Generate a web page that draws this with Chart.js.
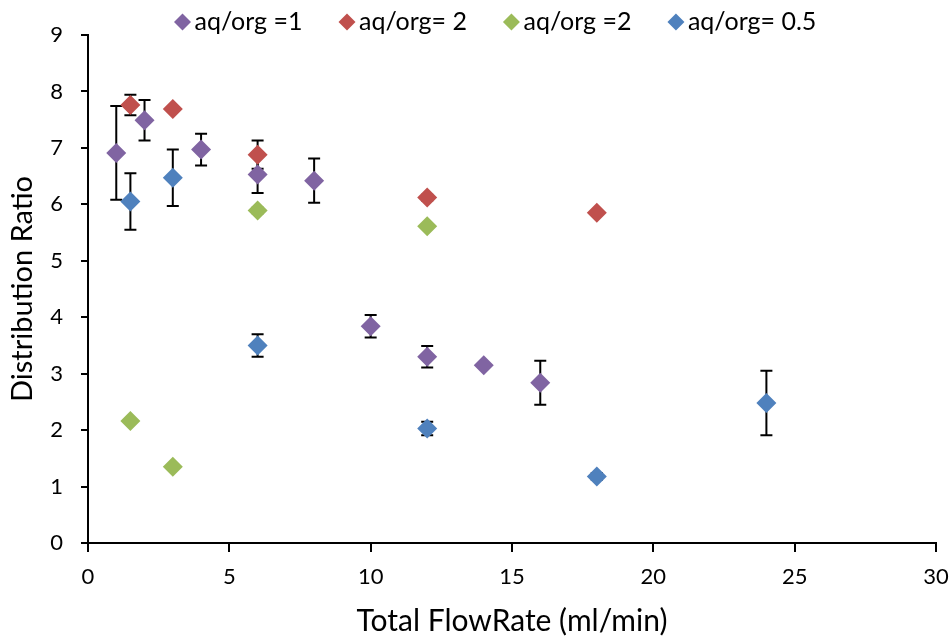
<!DOCTYPE html>
<html>
<head>
<meta charset="utf-8">
<script src="https://cdn.jsdelivr.net/npm/chart.js@4"></script>
<style>
  html, body { margin: 0; padding: 0; background: #fff; }
  #wrap { width: 952px; height: 639px; }
</style>
</head>
<body>
<div id="wrap"><canvas id="myChart" width="952" height="639"></canvas></div>
<script>
// Data
const seriesNames = ["aq/org =1", "aq/org= 2", "aq/org =2", "aq/org= 0.5"];
const seriesColors = ["#8064A2", "#C0504D", "#9BBB59", "#4F81BD"];

const ratio1X = [1, 2, 4, 6, 8, 10, 12, 14, 16];
const ratio1Y = [6.91, 7.49, 6.97, 6.53, 6.42, 3.84, 3.30, 3.15, 2.84];
const ratio1Err = [0.83, 0.36, 0.28, 0.33, 0.39, 0.20, 0.19, 0, 0.39];

const ratio2aX = [1.5, 3, 6, 12, 18];
const ratio2aY = [7.76, 7.69, 6.88, 6.12, 5.85];
const ratio2aErr = [0.18, 0, 0.25, 0.05, 0.03];

const ratio2bX = [1.5, 3, 6, 12];
const ratio2bY = [2.16, 1.35, 5.89, 5.61];
const ratio2bErr = [0, 0.03, 0.05, 0];

const ratioHalfX = [1.5, 3, 6, 12, 18, 24];
const ratioHalfY = [6.05, 6.47, 3.50, 2.03, 1.18, 2.48];
const ratioHalfErr = [0.50, 0.50, 0.20, 0.12, 0.06, 0.57];

const xTicks = [0, 5, 10, 15, 20, 25, 30];
const yTicks = [0, 1, 2, 3, 4, 5, 6, 7, 8, 9];

const FONT = "Lato, 'Open Sans', sans-serif";

/**
 * Zips x / y arrays into point objects
 */
function toPoints(xs, ys) {
  return xs.map((x, i) => ({ x, y: ys[i] }));
}

const allX = [ratio1X, ratio2aX, ratio2bX, ratioHalfX];
const allY = [ratio1Y, ratio2aY, ratio2bY, ratioHalfY];
const allErr = [ratio1Err, ratio2aErr, ratio2bErr, ratioHalfErr];

const datasets = seriesNames.map((name, i) => ({
  label: name,
  data: toPoints(allX[i], allY[i]),
  errors: allErr[i],
  pointStyle: "rectRot",
  pointRadius: 10,
  pointHoverRadius: 10,
  backgroundColor: seriesColors[i],
  borderColor: seriesColors[i],
  borderWidth: 0,
  showLine: false,
  order: i,
}));

// Vertical error bars with caps, drawn under the markers
const errorBars = {
  id: "errorBars",
  beforeDatasetsDraw(chart) {
    const ctx = chart.ctx;
    const xs = chart.scales.x;
    const ys = chart.scales.y;
    ctx.save();
    ctx.strokeStyle = "#000";
    ctx.lineWidth = 2;
    chart.data.datasets.forEach(ds => {
      ds.data.forEach((p, i) => {
        const e = ds.errors[i];
        if (!e) return;
        const px = xs.getPixelForValue(p.x);
        const top = ys.getPixelForValue(p.y + e);
        const bot = ys.getPixelForValue(p.y - e);
        ctx.beginPath();
        ctx.moveTo(px, top);
        ctx.lineTo(px, bot);
        ctx.moveTo(px - 6, top);
        ctx.lineTo(px + 6, top);
        ctx.moveTo(px - 6, bot);
        ctx.lineTo(px + 6, bot);
        ctx.stroke();
      });
    });
    ctx.restore();
  },
};

// Legend row across the top, like the Excel one
const topLegend = {
  id: "topLegend",
  afterDraw(chart) {
    const ctx = chart.ctx;
    const r = 8.5;
    let x = 174;
    const y = 22;
    ctx.save();
    ctx.font = `25px ${FONT}`;
    ctx.textBaseline = "middle";
    ctx.fillStyle = "#000";
    chart.data.datasets.forEach(ds => {
      const cx = x + r;
      ctx.fillStyle = ds.backgroundColor;
      ctx.beginPath();
      ctx.moveTo(cx, y - r);
      ctx.lineTo(cx + r, y);
      ctx.lineTo(cx, y + r);
      ctx.lineTo(cx - r, y);
      ctx.closePath();
      ctx.fill();
      ctx.fillStyle = "#000";
      const tx = cx + 12;
      ctx.fillText(ds.label, tx, y);
      x = tx + ctx.measureText(ds.label).width + 36;
    });
    ctx.restore();
  },
};

new Chart("myChart", {
  type: "scatter",
  data: { datasets },
  plugins: [errorBars, topLegend],
  options: {
    responsive: false,
    animation: false,
    layout: { padding: { left: 5, right: 16, top: 35, bottom: 0 } },
    plugins: {
      tooltip: { enabled: false },
      legend: { display: false },
    },
    scales: {
      x: {
        type: "linear",
        min: 0,
        max: 30,
        afterBuildTicks: axis => { axis.ticks = xTicks.map(v => ({ value: v })); },
        afterFit: axis => {
          axis.height = 639 - 543;
          axis.paddingRight = 0;
          axis.paddingLeft = 0;
        },
        grid: { display: true, drawOnChartArea: false, drawTicks: true, tickLength: 9, color: "#000", lineWidth: 2 },
        border: { display: true, color: "#000", width: 2 },
        ticks: { color: "#000", font: { family: FONT, size: 22 }, padding: 12, maxRotation: 0 },
        title: { display: true, text: "Total FlowRate (ml/min)", color: "#000", font: { family: FONT, size: 30 }, padding: 0 },
      },
      y: {
        type: "linear",
        min: 0,
        max: 9,
        afterBuildTicks: axis => { axis.ticks = yTicks.map(v => ({ value: v })); },
        afterFit: axis => { axis.width = 88 - 5; },
        grid: { display: true, drawOnChartArea: false, drawTicks: true, tickLength: 7, color: "#000", lineWidth: 2 },
        border: { display: true, color: "#000", width: 2 },
        ticks: { color: "#000", font: { family: FONT, size: 22 }, padding: 18 },
        title: { display: true, text: "Distribution Ratio", color: "#000", font: { family: FONT, size: 29 }, padding: 0 },
      },
    },
  },
});
</script>
</body>
</html>
